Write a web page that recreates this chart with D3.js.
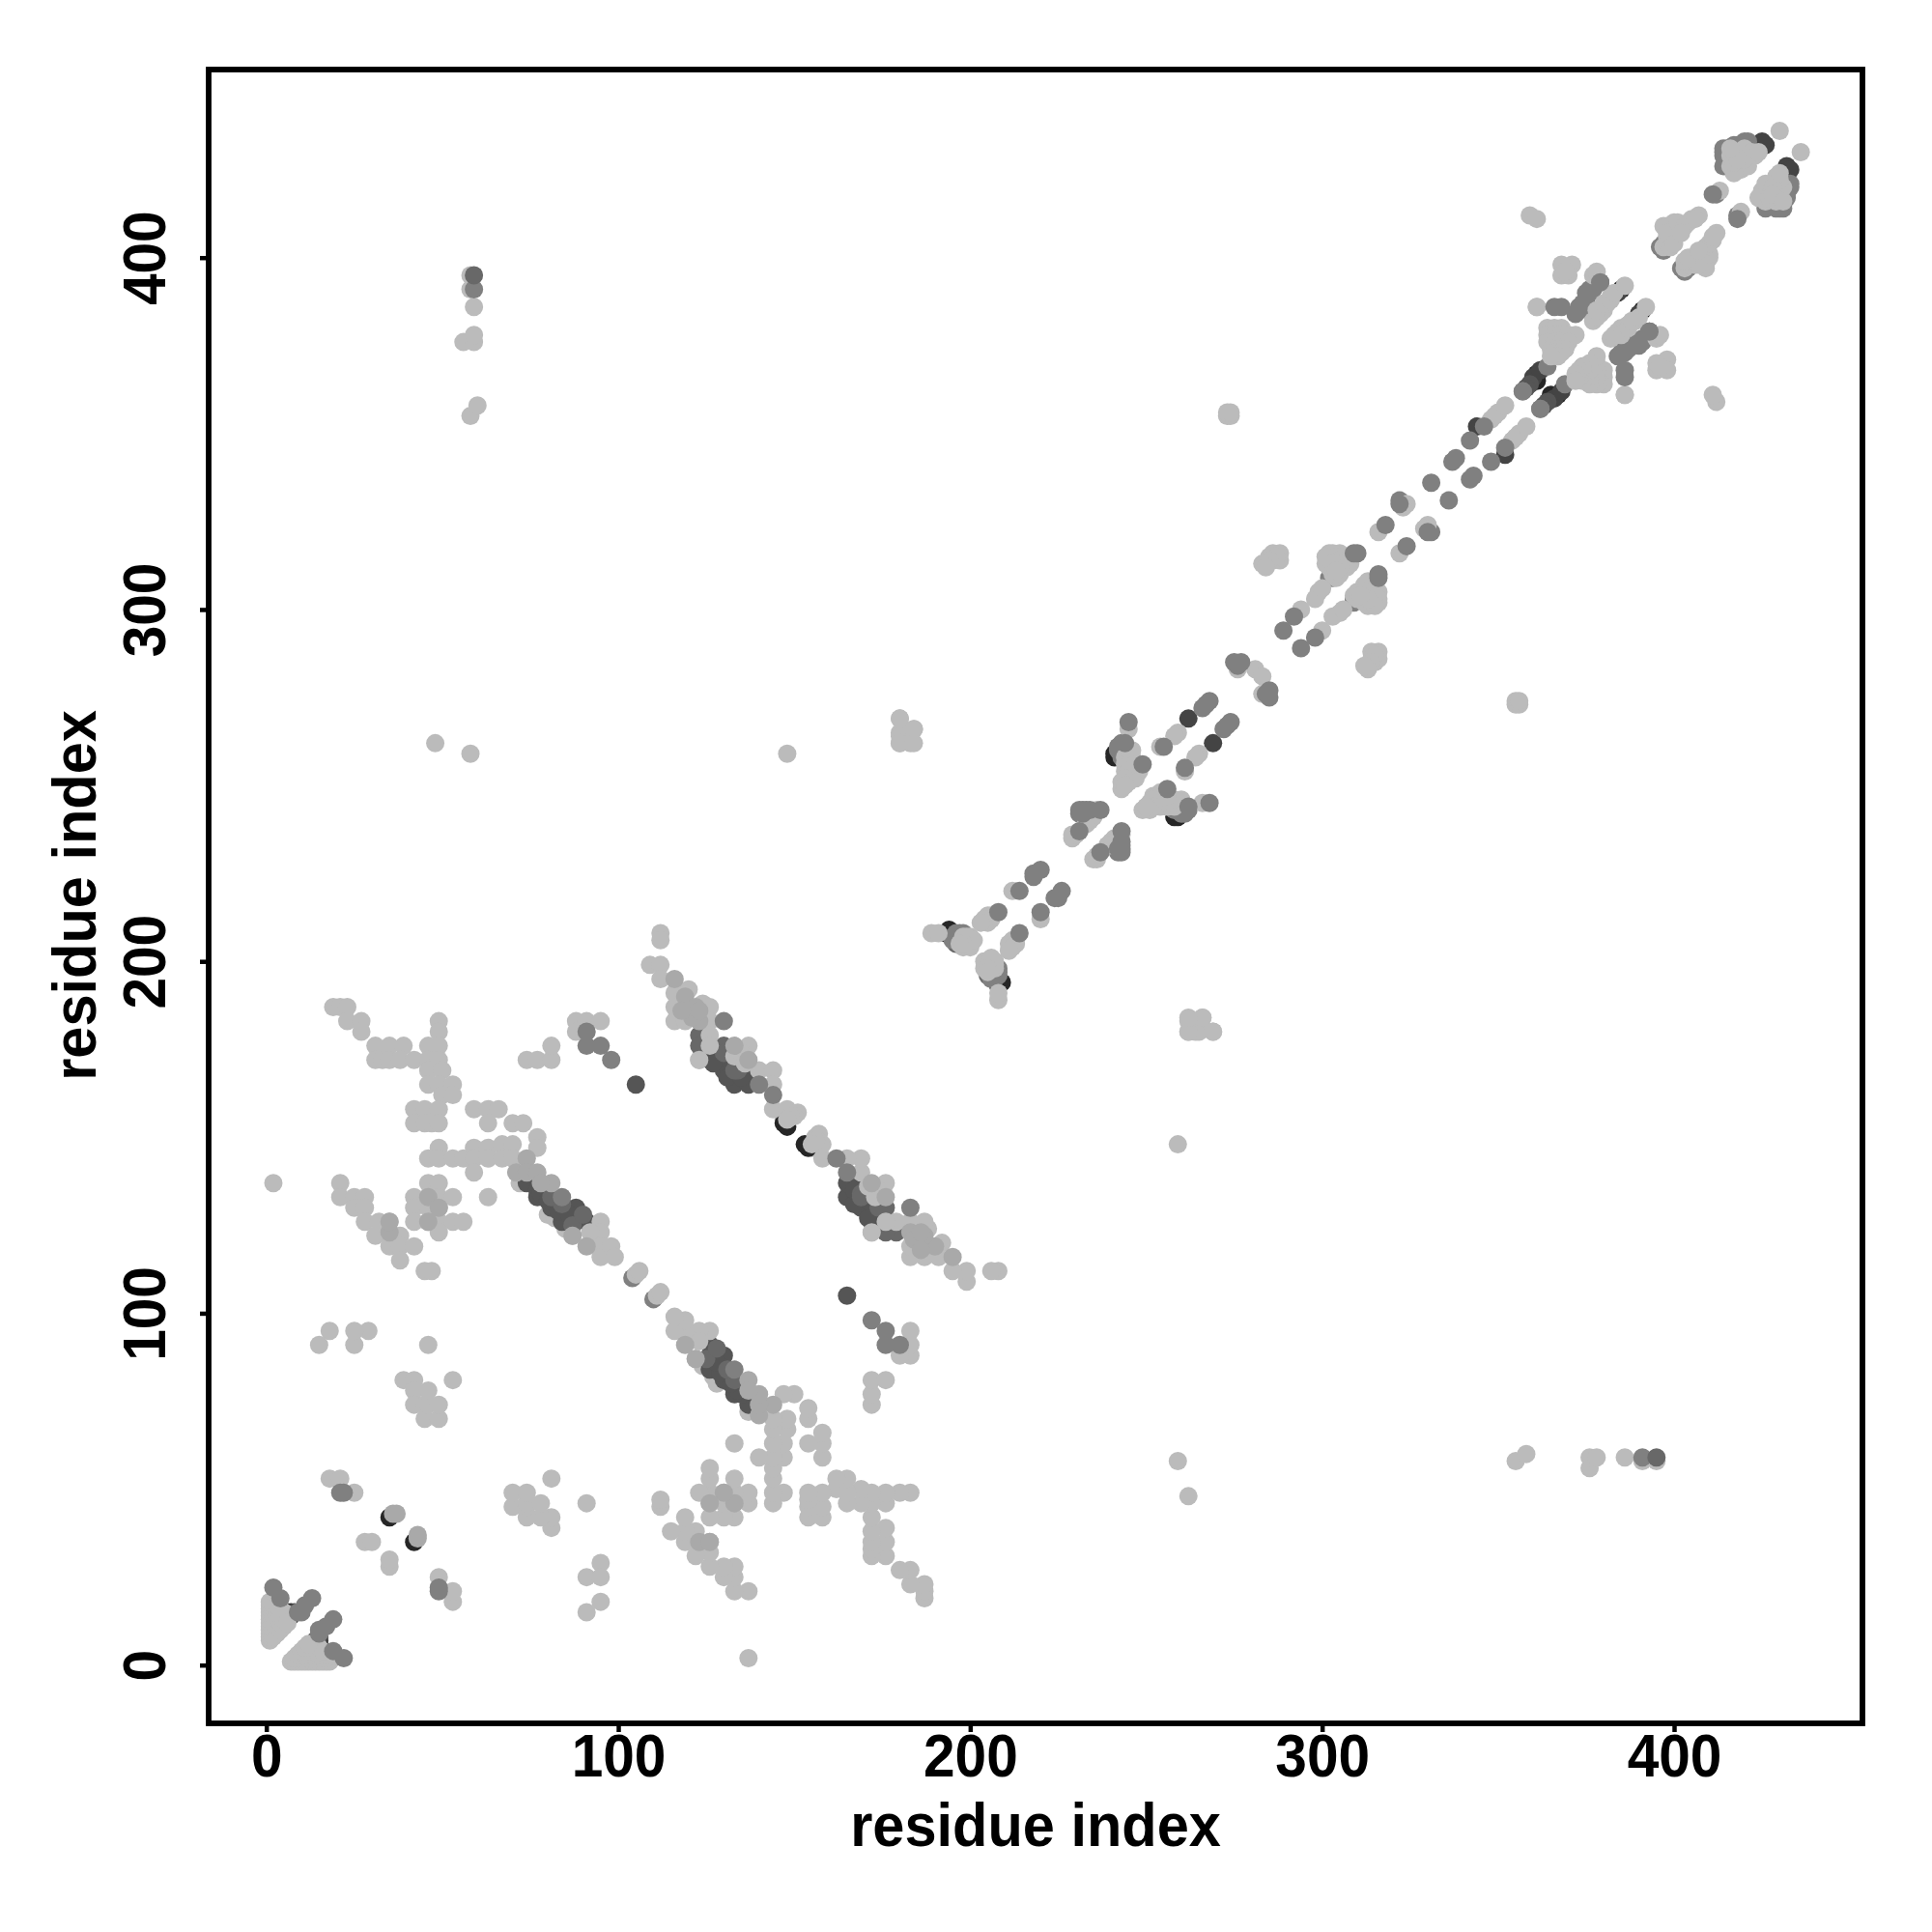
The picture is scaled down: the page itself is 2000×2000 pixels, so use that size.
<!DOCTYPE html>
<html><head><meta charset="utf-8">
<script src="https://cdnjs.cloudflare.com/ajax/libs/d3/7.8.5/d3.min.js"></script>
<style>html,body{margin:0;background:#fff}svg{display:block}text{font-family:"Liberation Sans",Arial,sans-serif;font-weight:700;fill:#000}</style>
</head><body><svg id="c" width="2000" height="2000"></svg>
<script>
const xTicks=[0,100,200,300,400], yTicks=[0,100,200,300,400];
const axisTitle="residue index";
// contact pairs [i,j], listed once each; the map is symmetric
const lightLow=[[72,137],[80,128],[123,172],[147,155],[87,122],[189,208],[85,124],[82,127],[93,121]];
const black=[[35,42],[126,176],[147,154],[148,153],[193,208],[194,209],[241,258],[241,259],[242,259],[243,259],[385,391],[375,386],[361,367],[361,365],[6,15],[7,15]];
const charcoal=[[262,269],[344,352],[426,432],[425,433],[360,366],[362,368],[377,385],[384,390],[8,15],[7,14]];
const dark=[[105,165],[74,137],[77,135],[77,133],[81,130],[85,130],[88,130],[84,126],[88,127],[91,126],[126,172],[130,172],[130,169],[133,165],[137,165],[137,169],[359,364],[358,363],[78,134],[80,132],[83,129],[86,128],[125,175],[128,174],[127,171],[132,171],[131,167],[135,167]];
const dim=[[81,133],[123,179],[123,176],[130,176],[134,169],[196,205],[374,386],[84,131],[87,125],[90,128],[130,174],[133,169],[195,207]];
const midLow=[[104,110],[195,206],[197,208],[196,208],[198,208],[323,330],[322,331],[357,362],[364,369],[368,386],[373,385],[375,388],[379,393],[376,391],[375,390],[391,377],[393,379],[397,402],[412,418],[415,429],[415,426],[414,426],[414,429],[414,431],[420,433],[418,432],[303,309],[397,404],[369,374],[377,384],[243,262],[242,261],[242,260],[243,258],[302,309],[373,386],[374,387],[376,390],[372,384],[396,403],[414,430],[415,431],[417,432],[419,432],[421,433],[232,243],[233,243],[231,242]];
const light=[
[1,7],[1,8],[1,9],[1,10],[1,11],[1,12],[1,13],[1,14],[1,15],[1,16],[1,17],[1,18],[2,8],[2,10],[2,12],[2,14],[2,16],[2,17],[3,9],[3,11],[3,13],[3,15],[3,17],[4,10],[4,12],[4,14],[4,16],[5,11],[5,13],[5,15],[6,12],
[18,53],[21,53],[25,49],[28,35],[30,35],[39,81],[42,81],[42,78],[42,74],[45,70],[45,74],[46,74],[46,78],[49,70],[49,74],[53,81],[46,91],[29,95],[25,91],[25,95],[18,95],[15,91],[2,137],
[19,187],[21,187],[23,187],[23,183],[27,183],[27,180],[31,176],[35,176],[39,176],[31,172],[33,172],[35,172],[38,172],[42,172],
[49,183],[49,180],[46,176],[49,176],[46,172],[49,172],[46,169],[50,169],[46,165],[49,165],[53,165],[50,162],[53,162],
[42,158],[45,158],[49,158],[42,154],[45,154],[47,154],[49,154],[59,158],[63,158],[66,158],[63,154],[70,154],[73,154],[77,150],[77,147],
[49,147],[46,144],[49,144],[53,144],[56,144],[59,147],[59,144],[63,147],[63,144],[67,148],[67,144],[70,148],[70,144],[59,140],
[21,137],[21,133],[25,133],[28,133],[25,130],[28,130],[28,126],[32,126],[35,126],[31,122],[35,122],[38,122],[35,119],[38,119],[42,119],[38,115],[45,112],[47,112],
[46,137],[49,137],[42,133],[46,133],[49,133],[53,133],[42,130],[46,130],[49,130],[42,126],[46,126],[49,126],[53,126],[56,126],[49,123],[63,133],
[88,183],[91,183],[95,183],[88,180],[74,172],[77,172],[81,172],[81,176],
[95,126],[95,123],[92,123],[95,119],[95,116],[98,119],[99,116],[105,111],[106,112],
[109,199],[112,199],[112,195],[120,192],[116,191],[116,187],[120,187],[124,188],[126,187],[116,183],[119,183],[126,183],[126,179],[126,176],[123,172],[112,208],[112,206],
[137,176],[133,173],[135,174],[136,171],[140,169],[144,169],[144,165],[144,158],[148,158],[151,157],[150,156],[149,156],[148,155],
[191,208],[198,204],[199,206],[200,207],[198,207],[199,205],[200,206],[199,207],[200,204],[201,206],[198,205],[197,205],[205,213],[205,211],[206,212],[206,213],[204,212],[203,211],[212,220],[229,235],[230,236],[236,243],[234,240],[235,241],[229,236],[233,241],[234,242],[235,242],[233,239],[233,240],
[245,266],[244,258],[245,258],[244,254],[245,252],[243,249],[248,254],[247,252],[246,256],[245,251],[244,256],[245,256],[246,254],[245,254],[246,252],[244,252],[243,251],[244,250],[246,258],[246,260],[247,256],[254,261],[259,265],[258,264],[276,283],[281,283],
[262,183],[265,183],[266,184],[262,180],[265,180],[269,180],
[294,300],[299,305],[298,303],[300,306],[303,315],[302,314],[304,309],[306,312],[304,313],[303,311],[307,314],[305,316],[302,316],[303,316],[304,315],[305,314],[306,313],[302,312],[301,313],[301,315],[303,310],[305,310],[307,312],[308,313],[305,312],[303,313],[304,311],[316,322],[324,330],[323,329],
[350,356],[348,354],[349,355],[352,358],
[284,313],[285,315],[286,316],[288,316],[288,314],[286,314],[287,315],[285,314],[283,313],[284,312],[273,355],[274,355],[273,356],[274,356],[361,386],
[364,380],[366,380],[368,380],[364,378],[366,378],[368,378],[370,378],[372,378],[364,376],[366,376],[368,376],[370,376],[365,374],[367,374],[369,374],[366,373],[368,373],[367,372],[365,372],
[377,382],[380,385],[382,389],[381,387],[379,384],[378,383],[378,385],[380,387],[382,388],[383,390],[377,395],[386,392],[361,386],[368,395],[371,398],[370,395],[368,398],[369,396],[359,412],[361,411],
[378,396],[397,403],[397,409],[400,410],[400,405],[402,409],[407,412],[405,411],[399,407],[398,406],[401,408],[398,404],[399,403],[399,409],[398,409],[398,407],[401,410],[403,409],[404,410],[406,411],[400,404],[402,407],[413,419],
[418,429],[419,425],[421,429],[418,426],[423,429],[419,428],[421,426],[416,426],[417,424],[416,429],[417,427],[419,430],[420,431],[422,430],[420,428],[418,428],[416,431],[424,430],[430,436],
[48,262],[58,259],[148,259],[58,355],[60,358],[56,376],[59,376],[59,378],[59,386],[58,395],[58,391],[180,269],[180,264],[180,262],[184,266],[184,262]
];
const mid=[[21,49],[22,49],[2,22],[4,19],[13,19],[11,17],[10,15],[9,15],[91,180],[91,176],[95,176],[98,172],[84,133],[130,183],[144,162],[140,165],[59,391],
[208,214],[214,220],[218,224],[220,226],[218,225],[231,237],[237,243],[231,243],[232,242],[234,243],[245,268],[244,262],[249,256],[255,261],[266,272],[268,274],[267,273],[275,285],[277,285],[276,284],
[289,294],[292,298],[310,316],[309,316],[318,324],[322,330],[331,336],[337,342],[338,343],[342,348],[346,352],[357,362],[379,393],[366,386],[411,418]];
const gray=[[36,43],[37,43],[74,144],[71,140],[74,140],[77,140],[81,137],[78,137],[87,122],[91,119],[123,183],[133,176],[137,172],[116,195],[35,123],[35,126],[46,133],[49,130],[46,126],[119,190],[122,187],[121,184],[123,186],[118,186]];
const dimTop=[[59,395]];
const layers=[[lightLow,"#bbbbbb"],[black,"#262626"],[charcoal,"#444444"],[dark,"#555555"],[dim,"#686868"],[midLow,"#808080"],[light,"#bbbbbb"],[mid,"#808080"],[gray,"#a9a9a9"],[dimTop,"#686868"]];

const svg=d3.select("#c");
const x=d3.scaleLinear().domain([0,400]).range([275.7,1733]);
const y=d3.scaleLinear().domain([0,400]).range([1723.7,266.7]);
const L=216,R=1928,T=72,B=1784;
const marks=svg.append("g");
layers.forEach(([pairs,col])=>{
  const both=pairs.flatMap(p=>[p,[p[1],p[0]]]);
  marks.append("g").selectAll("circle").data(both).join("circle")
    .attr("cx",d=>x(d[0])).attr("cy",d=>y(d[1])).attr("r",9.5).attr("fill",col);
});
const ax=svg.append("g").attr("transform",`translate(0,${B})`).call(d3.axisBottom(x).tickValues(xTicks).tickSize(9));
const ay=svg.append("g").attr("transform",`translate(${L},0)`).call(d3.axisLeft(y).tickValues(yTicks).tickSize(9));
[ax,ay].forEach(a=>{a.select(".domain").remove();a.selectAll("line").attr("stroke","#000").attr("stroke-width",4.5);a.selectAll("text").style("font-size","62px").style("font-family",'"Liberation Sans"').style("font-weight",700).attr("fill","#000");});
ax.selectAll("text").attr("y",55).attr("dy",0).attr("transform","scale(0.945,1)");
ay.selectAll("text").attr("text-anchor","middle").attr("x",0).attr("y",0).attr("dy",0).attr("transform",`translate(-45.3,0) rotate(-90) scale(0.945,1)`);
svg.append("rect").attr("x",L).attr("y",T).attr("width",R-L).attr("height",B-T).attr("fill","none").attr("stroke","#000").attr("stroke-width",5.8);
svg.append("text").attr("transform","translate(1072,1911) scale(0.96,1)").attr("text-anchor","middle").style("font-size","62px").text(axisTitle);
svg.append("text").attr("transform","translate(99,927) rotate(-90) scale(0.96,1)").attr("text-anchor","middle").style("font-size","62px").text(axisTitle);
</script></body></html>
